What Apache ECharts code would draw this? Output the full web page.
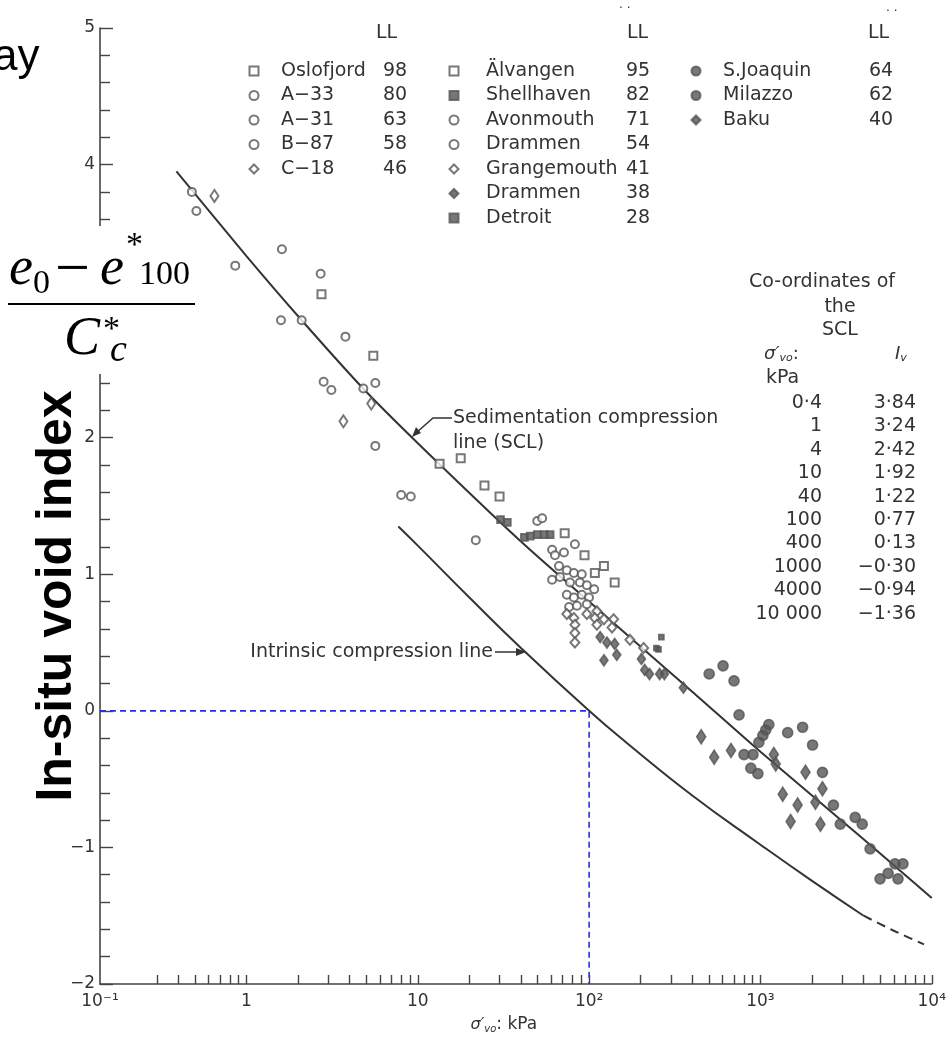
<!DOCTYPE html>
<html><head><meta charset="utf-8">
<script src="https://cdn.jsdelivr.net/npm/echarts@6/dist/echarts.min.js"></script>
<style>html,body{margin:0;padding:0;background:#fff}#c{width:949px;height:1039px}</style>
</head><body><div id="c"></div>
<script>
// ---------- data (σ'vo in kPa, Iv) ----------
const oslofjord = [[2.74,3.05],[5.5,2.60],[13.4,1.81]];
const a33 = [[0.48,3.80],[0.51,3.66],[0.86,3.26],[1.59,2.86]];
const a31 = [[1.61,3.38],[2.1,2.86],[2.82,2.41],[3.13,2.35],[8.0,1.58],[9.1,1.57]];
const b87 = [[2.71,3.20],[3.78,2.74],[4.81,2.36],[5.65,2.40],[5.65,1.94]];
const c18 = [[0.65,3.77],[5.35,2.25],[3.68,2.12]];
const alvangen = [[17.8,1.85],[24.5,1.65],[30,1.57],[72,1.30],[94,1.14],[108,1.01],[122,1.06],[141,0.94]];
const shellhaven = [[30.4,1.40],[33.3,1.38],[41.9,1.27],[45.3,1.28],[49.8,1.29],[54.7,1.29],[59.2,1.29]];
const avonmouth = [[21.8,1.25],[49.8,1.39],[53.2,1.41],[82.6,1.22],[60.8,1.18],[63.2,1.14],[71.3,1.16],[66.7,1.06],[74.1,1.03],[81.5,1.01],[90.6,1.00]];
const drammen54 = [[60.8,0.96],[67.6,0.98],[77.3,0.94],[88.3,0.94],[97,0.92],[107,0.89],[74.1,0.85],[81.5,0.83],[90.6,0.85],[99.8,0.83],[76.4,0.76],[84.9,0.77],[97,0.78]];
const grangemouth = [[111,0.73],[74.1,0.71],[81.5,0.68],[97,0.71],[108,0.68],[122,0.67],[82.6,0.63],[82.6,0.57],[82.6,0.50],[111,0.63],[139,0.67],[136,0.61],[173,0.52],[208,0.46]];
const drammen38 = [[116,0.54],[127,0.50],[141,0.49],[122,0.37],[145,0.41],[202,0.38],[211,0.30],[225,0.27],[258,0.27],[275,0.27],[355,0.17]];
const detroit = [[247,0.46],[264,0.54],[254,0.45]];
const sJoaquin = [[502,0.27],[605,0.33],[701,0.22],[750,-0.03],[979,-0.23],[1033,-0.18],[1074,-0.14],[1119,-0.10],[1442,-0.16],[1762,-0.12],[2014,-0.25],[2301,-0.45],[2667,-0.69]];
const milazzo = [[802,-0.32],[904,-0.32],[879,-0.42],[966,-0.46],[2924,-0.83],[3573,-0.78],[3926,-0.83],[4365,-1.01],[6100,-1.12],[6790,-1.12],[5560,-1.19],[6350,-1.23],[4990,-1.23]];
const baku = [[451,-0.19],[537,-0.34],[673,-0.29],[1197,-0.32],[1228,-0.39],[1832,-0.45],[2301,-0.57],[1349,-0.61],[1648,-0.69],[2094,-0.67],[1500,-0.81],[2239,-0.83]];

const sclStress = [0.39, 1, 2.1, 4.8, 10, 40, 100, 400, 1000, 4000, 10000];
const sclIv     = [3.95, 3.33, 2.86, 2.36, 1.96, 1.24, 0.80, 0.14, -0.30, -0.94, -1.37];
const iclStress = [7.7, 10, 20, 40, 100, 166, 400, 1000, 2000, 4000];
const iclIv     = [1.35, 1.21, 0.83, 0.46, 0.0, -0.235, -0.62, -0.98, -1.245, -1.50];
const iclDashStress = [4000, 6000, 9000];
const iclDashIv     = [-1.50, -1.61, -1.71];
const guideStress = [100];
const guideIv = [0];

const col1Names = ['Oslofjord','A−33','A−31','B−87','C−18'];
const col1LL = [98,80,63,58,46];
const col2Names = ['Älvangen','Shellhaven','Avonmouth','Drammen','Grangemouth','Drammen ','Detroit'];
const col2LL = [95,82,71,54,41,38,28];
const col3Names = ['S.Joaquin','Milazzo','Baku'];
const col3LL = [64,62,40];

const xLabelValues = [-0.855, 0, 1, 2, 3, 4];
const xTickLabels = ['10⁻¹','1','10','10²','10³','10⁴'];

const tableStress = ['0·4','1','4','10','40','100','400','1000','4000','10 000'];
const tableIv = ['3·84','3·24','2·42','1·92','1·22','0·77','0·13','−0·30','−0·94','−1·36'];

// ---------- build ----------
const lg = v => Math.log10(v);
const toXY = arr => arr.map(p => [lg(p[0]), p[1]]);
const zip = (a, b) => a.map((s, i) => [lg(s), b[i]]);

const FONT = 'DejaVu Sans';
const TXT = '#333';
const MK = '#555';

const scatterDefs = [
  ['Oslofjord', oslofjord, 'emptyRect', 8],
  ['A−33', a33, 'emptyCircle', 8],
  ['A−31', a31, 'emptyCircle', 8],
  ['B−87', b87, 'emptyCircle', 8],
  ['C−18', c18, 'emptyDiamond', [8,12]],
  ['Älvangen', alvangen, 'emptyRect', 8],
  ['Shellhaven', shellhaven, 'rect', 7],
  ['Avonmouth', avonmouth, 'emptyCircle', 8],
  ['Drammen', drammen54, 'emptyCircle', 8],
  ['Grangemouth', grangemouth, 'emptyDiamond', [9,10]],
  ['Drammen ', drammen38, 'diamond', [8,11]],
  ['Detroit', detroit, 'rect', 5],
  ['S.Joaquin', sJoaquin, 'circle', 10],
  ['Milazzo', milazzo, 'circle', 10],
  ['Baku', baku, 'diamond', [9,14]]
];

const series = scatterDefs.map(d => ({
  name: d[0], type: 'scatter', data: toXY(d[1]), symbol: d[2], symbolSize: d[3],
  itemStyle: { color: MK, borderColor: MK, borderWidth: 1.7 }, z: 4, silent: true
}));
series.push({ type:'line', data: zip(sclStress, sclIv), smooth: 0.25, symbol:'none', silent:true,
  lineStyle:{ color:'#333', width:2 }, z:3 });
series.push({ type:'line', data: zip(iclStress, iclIv), smooth: 0.5, symbol:'none', silent:true,
  lineStyle:{ color:'#333', width:2 }, z:3 });
series.push({ type:'line', data: zip(iclDashStress, iclDashIv), smooth: 0.25, symbol:'none', silent:true,
  lineStyle:{ color:'#333', width:2, type:[9,6] }, z:3 });
series.push({ type:'line', data: [[-0.855, guideIv[0]], [lg(guideStress[0]), guideIv[0]], [lg(guideStress[0]), -2]],
  symbol:'none', silent:true, lineStyle:{ color:'#2b2bf0', width:1.6, type:[6,4] }, z:2 });

function makeLegend(names, lls, left, gap, nameW) {
  const map = {}; names.forEach((n, i) => map[n] = lls[i]);
  return {
    data: names, orient: 'vertical', left: left, top: 56, itemWidth: 9, itemHeight: 9,
    itemGap: 4.5, selectedMode: false, inactiveColor: MK,
    formatter: n => '{g| }{n|' + n.trim() + '}{v|' + map[n] + '}',
    textStyle: { fontFamily: FONT, fontSize: 19, color: TXT, lineHeight: 20,
      rich: { g: { width: gap }, n: { width: nameW, fontFamily: FONT, fontSize: 19, color: TXT },
              v: { fontFamily: FONT, fontSize: 19, color: TXT } } }
  };
}

const text = (x, y, s, opt) => Object.assign({ type:'text', x, y, z: 100,
  style: Object.assign({ text: s, fill: TXT, font: '19px "' + FONT + '"', textAlign:'left', textVerticalAlign:'middle' }, opt || {}) });

const graphics = [];
// formula box
graphics.push({ type:'rect', z: 90, shape:{ x:6, y:226, width:192, height:148 }, style:{ fill:'#fff' } });
const serifI = s => 'italic ' + s + 'px "Liberation Serif"';
const serif = s => s + 'px "Liberation Serif"';
graphics.push(text(9, 270, 'e', { fill:'#000', font: serifI(54) }));
graphics.push(text(33, 284, '0', { fill:'#000', font: serif(34) }));
graphics.push(text(55, 272, '−', { fill:'#000', font: serif(62) }));
graphics.push(text(100, 270, 'e', { fill:'#000', font: serifI(54) }));
graphics.push(text(126, 246, '*', { fill:'#000', font: serif(34) }));
graphics.push(text(139, 275, '100', { fill:'#000', font: serif(34) }));
graphics.push({ type:'line', z:100, shape:{ x1:8, y1:304, x2:195, y2:304 }, style:{ stroke:'#000', lineWidth:2 } });
graphics.push(text(64, 340, 'C', { fill:'#000', font: serifI(54) }));
graphics.push(text(103, 330, '*', { fill:'#000', font: serif(34) }));
graphics.push(text(110, 351, 'c', { fill:'#000', font: serifI(38) }));
// overlay texts
graphics.push(text(-7, 58, 'ay', { fill:'#000', font: '44px "Liberation Sans"' }));
graphics.push({ type:'text', x: 57, y: 596, rotation: Math.PI/2, z: 100,
  style:{ text:'In-situ void index', fill:'#000', font:'bold 50px "Liberation Sans"', textAlign:'center', textVerticalAlign:'middle' } });
// legend headers
graphics.push(text(376, 33, 'LL'));
graphics.push(text(627, 33, 'LL'));
graphics.push(text(619, 9, '· ·', { font:'12px "' + FONT + '"' }));
graphics.push(text(868, 33, 'LL'));
graphics.push(text(886, 12, '· ·', { font:'12px "' + FONT + '"' }));
// coordinates table
graphics.push(text(822, 282, 'Co-ordinates of', { textAlign:'center' }));
graphics.push(text(840, 307, 'the', { textAlign:'center' }));
graphics.push(text(840, 330, 'SCL', { textAlign:'center' }));
graphics.push(text(764, 354, '', { rich:{ i:{ font:'italic 18px "'+FONT+'"', fill:TXT }, s:{ font:'italic 11px "'+FONT+'"', fill:TXT, padding:[8,0,0,0] }, t:{ font:'18px "'+FONT+'"', fill:TXT } },
  text:'{i|σ′}{s|vo}{t|:}' }));
graphics.push(text(895, 354, '', { rich:{ i:{ font:'italic 18px "'+FONT+'"', fill:TXT }, s:{ font:'italic 11px "'+FONT+'"', fill:TXT, padding:[8,0,0,0] } }, text:'{i|I}{s|v}' }));
graphics.push(text(766, 378, 'kPa'));
tableStress.forEach((s, i) => {
  graphics.push(text(822, 403 + i * 23.4, s, { textAlign:'right' }));
  graphics.push(text(916, 403 + i * 23.4, tableIv[i], { textAlign:'right' }));
});
// annotations
graphics.push(text(453, 418, 'Sedimentation compression'));
graphics.push(text(453, 443, 'line (SCL)'));
graphics.push({ type:'polyline', z:100, shape:{ points:[[452,418],[433,418],[416,433]] }, style:{ stroke:'#333', lineWidth:1.5, fill:null } });
graphics.push({ type:'polygon', z:100, shape:{ points:[[412,437],[416,427],[421,433]] }, style:{ fill:'#333' } });
graphics.push(text(493, 652, 'Intrinsic compression line', { textAlign:'right' }));
graphics.push({ type:'line', z:100, shape:{ x1:495, y1:652, x2:520, y2:652 }, style:{ stroke:'#333', lineWidth:1.5 } });
graphics.push({ type:'polygon', z:100, shape:{ points:[[526,652],[516,648],[516,656]] }, style:{ fill:'#333' } });

const xTickVals = [];
for (let d = -1; d <= 3; d++) for (let k = 1; k <= 9; k++) {
  const v = d + Math.log10(k);
  if (v >= -0.6) xTickVals.push(v);
}
xTickVals.push(4);

const option = {
  animation: false,
  backgroundColor: '#fff',
  grid: { left: 100, right: 12, top: 28, bottom: 51 },
  xAxis: {
    type: 'value', min: -0.855, max: 4,
    axisLine: { onZero: false, lineStyle: { color: '#444', width: 1.6 } },
    axisTick: { inside: true, length: 9, lineStyle: { color: '#444', width: 1.4 }, customValues: xTickVals },
    axisLabel: { customValues: xLabelValues, margin: 9, color: TXT, fontFamily: FONT, fontSize: 17,
      formatter: v => { const i = xLabelValues.findIndex(t => Math.abs(t - v) < 1e-6); return i >= 0 ? xTickLabels[i] : ''; } },
    splitLine: { show: false },
    name: '{i|σ′}{s|vo}{t|: kPa}', nameLocation: 'middle', nameGap: 32,
    nameTextStyle: { padding: [0, 24, 0, 0], rich: {
      i: { fontFamily: FONT, fontStyle: 'italic', fontSize: 16, color: TXT },
      s: { fontFamily: FONT, fontStyle: 'italic', fontSize: 10, color: TXT, padding: [8,0,0,0] },
      t: { fontFamily: FONT, fontSize: 17, color: TXT } } }
  },
  yAxis: {
    type: 'value', min: -2, max: 5, interval: 1,
    axisLine: { onZero: false, lineStyle: { color: '#444', width: 1.6 } },
    axisTick: { inside: true, length: 13, lineStyle: { color: '#444', width: 1.4 } },
    minorTick: { show: true, splitNumber: 5, length: 10, lineStyle: { color: '#444', width: 1.4 } },
    axisLabel: { margin: 5, color: TXT, fontFamily: FONT, fontSize: 17, formatter: v => v < 0 ? '−' + Math.abs(v) : String(v) },
    splitLine: { show: false }, minorSplitLine: { show: false }
  },
  legend: [
    makeLegend(col1Names, col1LL, 243.5, 17.5, 102),
    makeLegend(col2Names, col2LL, 443.5, 22.5, 140),
    makeLegend(col3Names, col3LL, 685.5, 17.5, 146)
  ],
  graphic: graphics,
  series: series
};

const chart = echarts.init(document.getElementById('c'), null, { renderer: 'canvas' });
chart.setOption(option);
</script>
</body></html>
